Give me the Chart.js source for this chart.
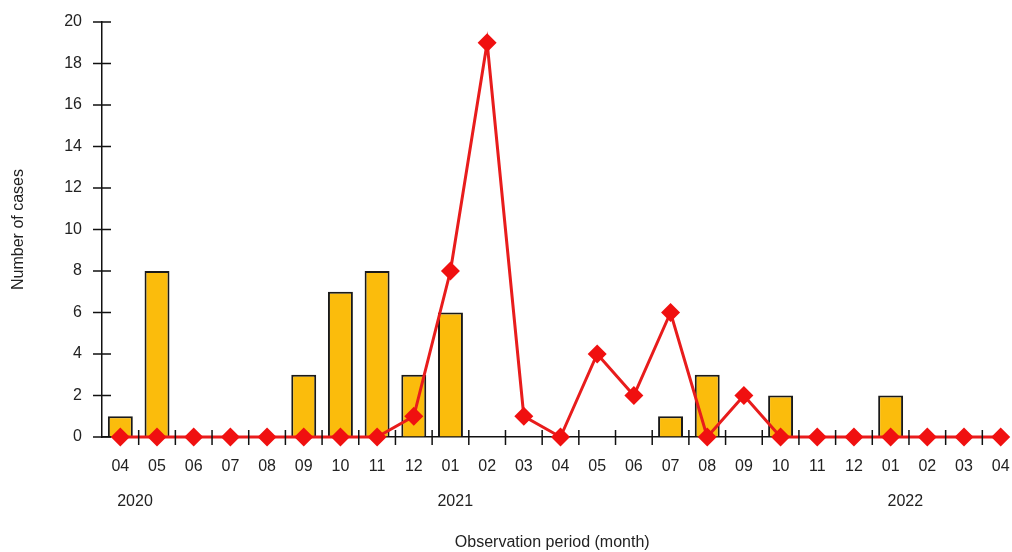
<!DOCTYPE html>
<html>
<head>
<meta charset="utf-8">
<script src="https://cdn.jsdelivr.net/npm/chart.js@4"></script>
<style>
  html, body { margin: 0; padding: 0; background: #fff; overflow: hidden; }
  #grafico { display: block; }
</style>
</head>
<body>
<canvas id="grafico" width="1012" height="552"></canvas>
<script>
// ── DATOS ──────────────────────────────────────────────
const meses = ["04", "05", "06", "07", "08", "09", "10", "11", "12",
               "01", "02", "03", "04", "05", "06", "07", "08", "09", "10", "11", "12",
               "01", "02", "03", "04"];
const barras = [1, 8, null, null, null, 3, 7, 8, 3,
                6, null, null, null, null, null, 1, 3, null, 2, null, null,
                2, null, null, null];
const linea = [0, 0, 0, 0, 0, 0, 0, 0, 1,
               8, 19, 1, 0, 4, 2, 6, 0, 2, 0, 0, 0,
               0, 0, 0, 0];
const anios = ["2020", "2021", "2022"];
const aniosPos = [0.4, 9.13, 21.4];   // posición (en meses) de cada año
const ticksY = [0, 2, 4, 6, 8, 10, 12, 14, 16, 18, 20];

const fuente = "'Liberation Sans', Arial, sans-serif";
const colorTexto = "#222";

// marcas de eje que cruzan la línea del eje, y los años
const marcasEjes = {
  id: "marcasEjes",
  afterDraw(chart) {
    const ctx = chart.ctx;
    const x = chart.scales.x, y = chart.scales.y;
    const area = chart.chartArea;
    ctx.save();
    ctx.strokeStyle = "#111";
    ctx.lineWidth = 1.5;
    ctx.beginPath();
    ticksY.forEach(v => {
      const py = y.getPixelForValue(v);
      ctx.moveTo(area.left - 9, py);
      ctx.lineTo(area.left + 9, py);
    });
    for (let i = 0; i < meses.length - 1; i++) {
      const px = x.getPixelForValue(i + 0.5);
      ctx.moveTo(px, area.bottom - 7);
      ctx.lineTo(px, area.bottom + 8);
    }
    ctx.stroke();

    ctx.fillStyle = colorTexto;
    ctx.font = "16px " + fuente;
    ctx.textAlign = "center";
    ctx.textBaseline = "middle";
    anios.forEach((a, i) => {
      ctx.fillText(a, x.getPixelForValue(aniosPos[i]), area.bottom + 65);
    });
    ctx.restore();
  }
};

const ctx = document.getElementById("grafico").getContext("2d");
new Chart(ctx, {
  data: {
    datasets: [
      {
        type: "line",
        data: linea.map((v, i) => ({ x: i, y: v })),
        borderColor: "#E81C1C",
        borderWidth: 3,
        pointStyle: "rectRot",
        pointRadius: 9.5,
        pointHoverRadius: 9.5,
        pointBackgroundColor: "#F01010",
        pointBorderColor: "#F01010",
        pointBorderWidth: 0,
        tension: 0,
        clip: false,
        order: 0,
      },
      {
        type: "bar",
        data: barras.map((v, i) => ({ x: i, y: v })),
        backgroundColor: "#FBBC0C",
        borderColor: "#1a1a1a",
        borderWidth: 2,
        barPercentage: 0.68,
        categoryPercentage: 1,
        order: 1,
      },
    ],
  },
  options: {
    responsive: false,
    maintainAspectRatio: false,
    devicePixelRatio: 1,
    animation: false,
    layout: { padding: { top: 22, right: 0, left: 0, bottom: 0 } },
    plugins: { legend: { display: false }, tooltip: { enabled: false } },
    scales: {
      x: {
        type: "linear",
        min: -0.5,
        max: 24.05,
        offset: false,
        afterBuildTicks: s => { s.ticks = meses.map((m, i) => ({ value: i })); },
        grid: { display: true, offset: false, drawOnChartArea: false, drawTicks: true, tickLength: 18, tickColor: "rgba(0,0,0,0)" },
        border: { display: true, color: "#111", width: 1.5 },
        ticks: { callback: v => meses[v], color: colorTexto, font: { family: fuente, size: 16 },
                 padding: 2, maxRotation: 0, autoSkip: false },
        title: { display: true, text: "Observation period (month)", color: colorTexto,
                 font: { family: fuente, size: 16 }, padding: { top: 0, bottom: 0 } },
        afterFit: s => { s.height = 115; },
      },
      y: {
        min: 0, max: 20,
        grid: { display: true, drawOnChartArea: false, drawTicks: true, tickLength: 12, tickColor: "rgba(0,0,0,0)" },
        border: { display: true, color: "#111", width: 1.5 },
        ticks: { stepSize: 2, color: colorTexto, font: { family: fuente, size: 16 }, padding: 8 },
        title: { display: true, text: "Number of cases", color: colorTexto,
                 font: { family: fuente, size: 16 }, padding: { top: 9, bottom: 0 } },
        afterFit: s => { s.width = 102; },
      },
    },
  },
  plugins: [marcasEjes],
});
</script>
</body>
</html>
